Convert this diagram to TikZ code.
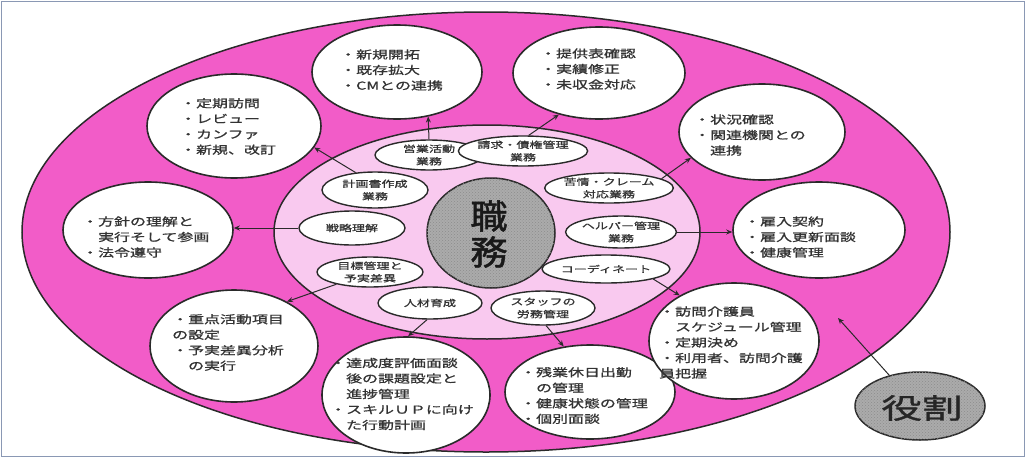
\documentclass[tikz,border=0pt]{standalone}
\usepackage{fontspec}
\newfontfamily\jp[FakeStretch=1.45,FakeBold=1]{Noto Sans CJK JP}
\newfontfamily\jpbig[FakeStretch=1.1,FakeBold=1.5]{Noto Sans CJK JP}
\usetikzlibrary{shapes.geometric,arrows.meta,patterns}
\definecolor{hotpink}{HTML}{F25CC8}
\definecolor{lightpink}{HTML}{F9C9EF}
\definecolor{edge}{HTML}{2A2A2A}
\definecolor{txt}{HTML}{333333}
\definecolor{framecol}{HTML}{8A98B4}
\definecolor{hubgray}{HTML}{ABABAB}
\begin{document}
\begin{tikzpicture}[x=1pt,y=-1pt,
  ringstyle/.style={ellipse,draw=edge,line width=1.5pt,inner sep=0pt},
  bubble/.style={ellipse,draw=edge,line width=1.6pt,fill=white,inner sep=0pt},
  task/.style={ellipse,draw=edge,line width=1.4pt,fill=white,inner sep=0pt,align=center,
    font=\jp\fontsize{9}{12.5}\selectfont,text=txt},
  listtext/.style={anchor=west,align=left,inner sep=0pt,font=\jp\fontsize{11}{15.5}\selectfont,text=txt},
  link/.style={draw=edge,line width=1pt,-{Stealth[length=6pt,width=5pt]}},
  hatched/.style={ellipse,draw=edge,line width=1.5pt,fill=hubgray,inner sep=0pt,
    postaction={pattern=crosshatch dots,pattern color=black!45}}
]
\useasboundingbox (0,0) rectangle (1026,458);
\draw[framecol,line width=1.2pt] (1.5,1.5) rectangle (1024.5,456.5);

% rings
\node[ringstyle,fill=hotpink,minimum width=928pt,minimum height=440pt] (ring) at (486,232) {};
\node[ringstyle,fill=lightpink,minimum width=426pt,minimum height=214pt] (core) at (487,232) {};
\node[hatched,minimum width=128pt,minimum height=110pt] (hub) at (491,233) {};
\node[font=\jpbig\fontsize{34}{36}\selectfont,align=center,text=black!90,inner sep=0pt] (hubt) at (489,234) {職\\務};

% inner task ellipses
\node[task,minimum width=108pt,minimum height=30pt] (i1) at (429,155) {営業活動\\業務};
\node[task,minimum width=104pt,minimum height=30pt] (i2) at (523,151) {請求・債権管理\\業務};
\node[task,minimum width=106pt,minimum height=36pt] (i3) at (375,190) {計画書作成\\業務};
\node[task,minimum width=102pt,minimum height=30pt] (i4) at (609,188) {苦情・クレーム\\対応業務};
\node[task,minimum width=106pt,minimum height=34pt] (i5) at (352,228) {戦略理解};
\node[task,minimum width=108pt,minimum height=32pt] (i6) at (621,232) {ヘルパー管理\\業務};
\node[task,minimum width=106pt,minimum height=30pt] (i7) at (370,272) {目標管理と\\予実差異};
\node[task,minimum width=104pt,minimum height=32pt] (i8) at (430,303) {人材育成};
\node[task,minimum width=104pt,minimum height=34pt] (i9) at (543,308) {スタッフの\\労務管理};
\node[task,minimum width=108pt,minimum height=28pt] (i10) at (606,269) {コーディネート};

% outer bubbles
\node[bubble,minimum width=174pt,minimum height=104pt] (o1) at (234,126) {};
\node[bubble,minimum width=170pt,minimum height=94pt] (o2) at (397,72) {};
\node[bubble,minimum width=172pt,minimum height=92pt] (o3) at (599,73) {};
\node[bubble,minimum width=166pt,minimum height=96pt] (o4) at (762,132) {};
\node[bubble,minimum width=170pt,minimum height=96pt] (o5) at (148,230) {};
\node[bubble,minimum width=172pt,minimum height=96pt] (o6) at (819,230) {};
\node[bubble,minimum width=168pt,minimum height=112pt] (o7) at (234,346) {};
\node[bubble,minimum width=168pt,minimum height=116pt] (o8) at (406,395) {};
\node[bubble,minimum width=170pt,minimum height=94pt] (o9) at (590,392) {};
\node[bubble,minimum width=170pt,minimum height=116pt] (o10) at (734,341) {};

% texts of outer bubbles
\node[listtext] (t1) at (180,126.5) {・定期訪問\\・レビュー\\・カンファ\\・新規、改訂};
\node[listtext] (t2) at (340,70) {・新規開拓\\・既存拡大\\・CMとの連携};
\node[listtext] (t3) at (540,69) {・提供表確認\\・実績修正\\・未収金対応};
\node[listtext] (t4) at (694,135) {・状況確認\\・関連機関との\\\phantom{・}連携};
\node[listtext] (t5) at (82,237) {・方針の理解と\\\phantom{・}実行そして参画\\・法令遵守};
\node[listtext] (t6) at (744,237) {・雇入契約\\・雇入更新面談\\・健康管理};
\node[listtext] (t7) at (172,342.5) {・重点活動項目\\の設定\\・予実差異分析\\\phantom{・}の実行};
\node[listtext] (t8) at (330,394) {・達成度評価面談\\\phantom{・}後の課題設定と\\\phantom{・}進捗管理\\・スキルＵＰに向け\\\phantom{・}た行動計画};
\node[listtext] (t9) at (520,395.5) {・残業休日出勤\\\phantom{・}の管理\\・健康状態の管理\\・個別面談};
\node[listtext] (t10) at (659,342.5) {・訪問介護員\\\phantom{・}スケジュール管理\\・定期決め\\・利用者、訪問介護\\員把握};

% connectors
\draw[link] (i1.north) -- (o2.-55);
\draw[link] (i2.70) -- (o3.-134);
\draw[link] (i3.138) -- (o1.-15);
\draw[link] (i4.10) -- (o4.-160);
\draw[link] (i5.west) -- (i5.west -| o5.east);
\draw[link] (i6.east) -- (i6.east -| o6.west);
\draw[link] (i7.-160) -- (o7.40);
\draw[link] (i8.-100) -- (o8.88);
\draw[link] (i9.-80) -- (o9.120);
\draw[link] (i10.-12) -- (o10.140);

% role
\node[hatched,minimum width=130pt,minimum height=68pt] (role) at (920,406) {};
\node[font=\jp\fontsize{28}{30}\selectfont,text=black!85,inner sep=0pt] (rolet) at (922,408) {役割};
\coordinate (rolept) at (838,318);
\draw[link] (role.135) -- (rolept);
\end{tikzpicture}
\end{document}
